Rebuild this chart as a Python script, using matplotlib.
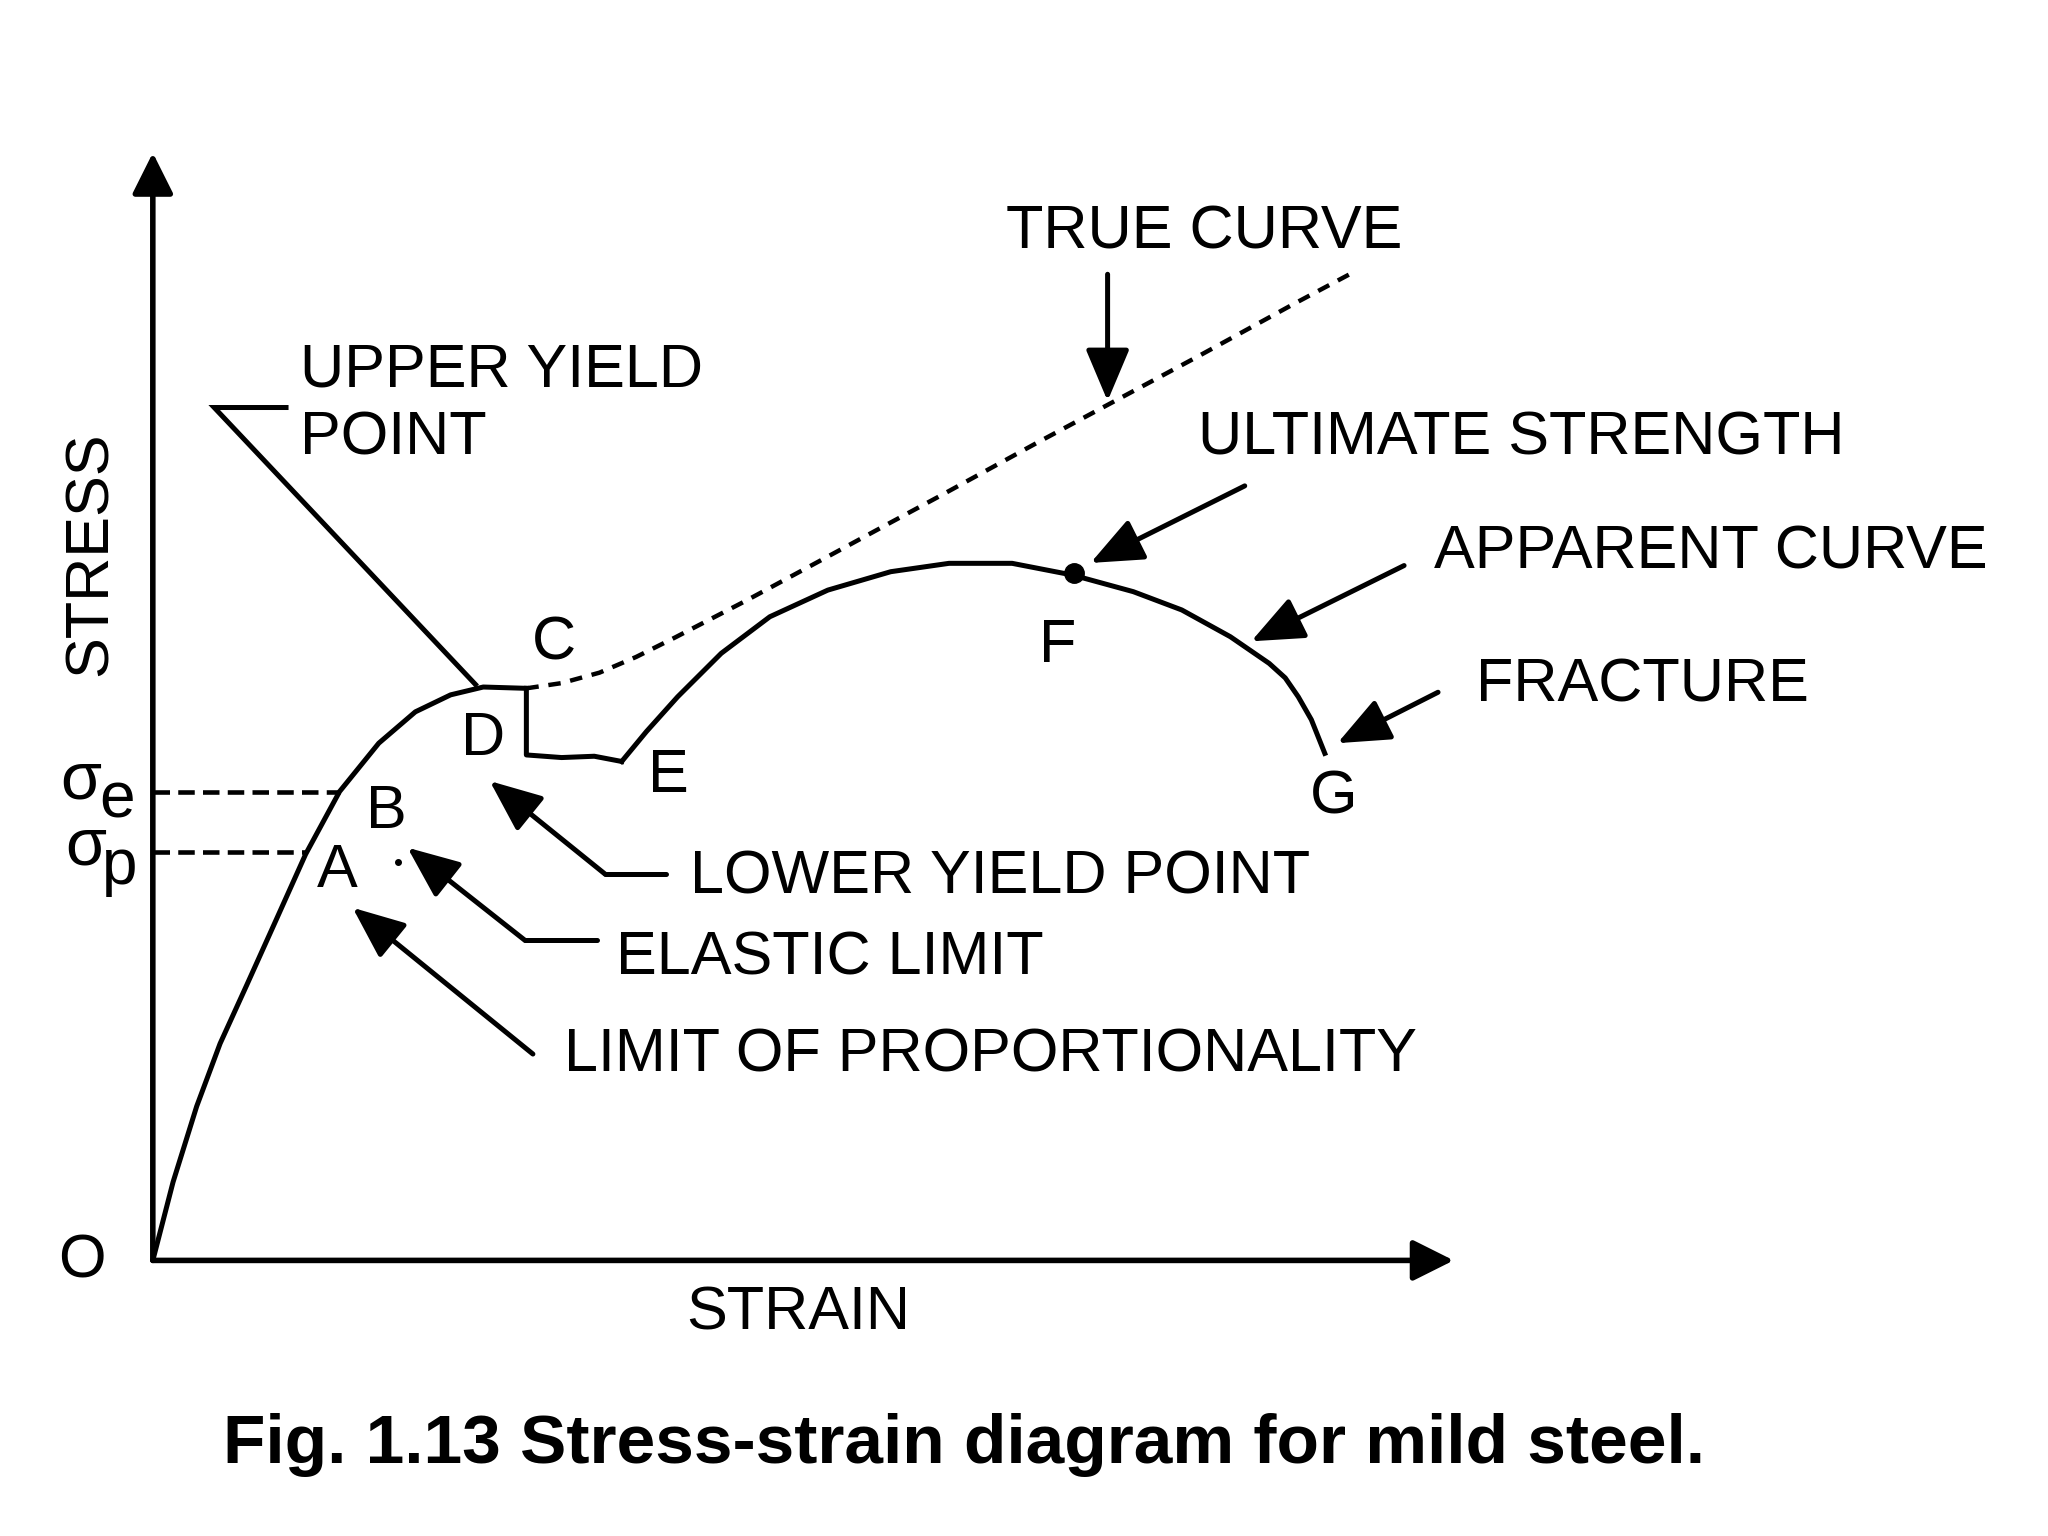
import matplotlib.pyplot as plt

plt.rcParams["font.family"] = ["Liberation Sans", "DejaVu Sans"]

# schematic curve, origin at O (strain, stress in drawing units)
elastic_strain = [0, 15.5, 33.6, 51.5, 72, 95, 117, 143, 173, 201, 228, 253, 286]
elastic_stress = [0, 60, 118, 166, 211, 262, 311, 359, 396, 420, 433, 439, 438]

yield_strain = [286, 286, 313, 338, 359]
yield_stress = [438, 387, 385, 386, 382]

apparent_strain = [359, 378, 401.8, 435.2, 472.4, 516.8, 565, 609.6, 657.9, 704.3,
                   750.7, 787.8, 825, 854.7, 867, 877, 887, 897.3]
apparent_stress = [382, 405, 431.5, 464.8, 492.8, 513.2, 527.3, 533.7, 533.7, 524.7,
                   512, 498, 477.5, 457.1, 446, 431.5, 414, 388.2]

true_strain = [286, 313, 342, 370, 400, 454, 517, 565, 604, 677, 731, 800, 873, 920]
true_stress = [438, 442, 450, 462, 477, 505, 539, 565, 586, 626, 655, 692, 732, 757]

sigma_e = 359
sigma_p = 313
strain_at_e = 143
strain_at_p = 117
ultimate = (705, 526)

point_names = ["C", "D", "E", "B", "A", "F", "G"]
point_x = [307, 253, 395, 179, 141, 693, 904]
point_y = [460, 387, 359, 331, 286, 458, 342]

fig = plt.figure(figsize=(20.48, 15.36), dpi=100)
ax = fig.add_axes([0, 0, 1, 1])
ax.set_xlim(-117, 1451)
ax.set_ylim(-211, 965)
ax.axis("off")

LW = 3.6
FS = 44

# axes with arrow heads
axis_arrow = dict(arrowstyle="-|>,head_length=0.42,head_width=0.21", mutation_scale=60,
                  lw=4.0, color="black", shrinkA=0, shrinkB=0)
ax.annotate("", xy=(0, 848), xytext=(0, 0), arrowprops=axis_arrow)
ax.annotate("", xy=(996, 0), xytext=(0, 0), arrowprops=axis_arrow)

# curves
ax.plot(elastic_strain, elastic_stress, color="black", lw=LW,
        solid_capstyle="round", solid_joinstyle="round")
ax.plot(yield_strain, yield_stress, color="black", lw=LW, solid_joinstyle="round")
ax.plot(apparent_strain, apparent_stress, color="black", lw=LW, solid_joinstyle="round")
ax.plot(true_strain, true_stress, color="black", lw=3.2, linestyle=(0, (2.8, 2.2)))
ax.plot(*ultimate, "o", color="black", ms=14)

# sigma levels
ax.plot([0, strain_at_e], [sigma_e, sigma_e], color="black", lw=3.3, linestyle=(0, (3.6, 1.8)))
ax.plot([0, strain_at_p], [sigma_p, sigma_p], color="black", lw=3.3, linestyle=(0, (3.6, 1.8)))
ax.plot(188, 305, "o", color="black", ms=4)

# upper yield point leader
ax.plot([102, 47, 247], [653, 653, 441], color="black", lw=LW, solid_joinstyle="miter")

# pointer arrows
ptr = dict(arrowstyle="-|>,head_length=0.64,head_width=0.27", mutation_scale=50,
           lw=3.6, color="black", shrinkA=0, shrinkB=0)
ax.annotate("", xy=(731, 658), xytext=(731, 755), arrowprops=ptr)
ax.annotate("", xy=(718, 534), xytext=(836, 593), arrowprops=ptr)
ax.annotate("", xy=(841, 474), xytext=(958, 532), arrowprops=ptr)
ax.annotate("", xy=(907, 396), xytext=(984, 435), arrowprops=ptr)
ax.plot([393, 346], [296, 296], color="black", lw=3.6, solid_capstyle="round")
ax.annotate("", xy=(258, 367), xytext=(346, 296), arrowprops=ptr)
ax.plot([340, 285], [245, 245], color="black", lw=3.6, solid_capstyle="round")
ax.annotate("", xy=(195, 316), xytext=(285, 245), arrowprops=ptr)
ax.annotate("", xy=(153, 270), xytext=(291, 158), arrowprops=ptr)

# labels
labels = [
    ("TRUE CURVE", 653, 775),
    ("UPPER YIELD", 113, 669),
    ("POINT", 113, 617),
    ("ULTIMATE STRENGTH", 800, 617),
    ("APPARENT CURVE", 981, 530),
    ("FRACTURE", 1013, 428),
    ("LOWER YIELD POINT", 411, 281),
    ("ELASTIC LIMIT", 355, 219),
    ("LIMIT OF PROPORTIONALITY", 315, 145),
]
for txt, x, y in labels:
    ax.text(x, y, txt, fontsize=FS, ha="left", va="baseline")

for name, x, y in zip(point_names, point_x, point_y):
    ax.text(x, y, name, fontsize=FS, ha="center", va="baseline")

ax.text(-54, -13, "O", fontsize=FS, ha="center", va="baseline")
ax.text(494, -53, "STRAIN", fontsize=FS, ha="center", va="baseline")
ax.text(-35, 541, "STRESS", fontsize=FS, ha="center", va="baseline",
        rotation=90, rotation_mode="anchor")

ax.text(-71, 354, "σ", fontsize=48, ha="left", va="baseline")
ax.text(-41, 339, "e", fontsize=46, ha="left", va="baseline")
ax.text(-67, 303, "σ", fontsize=48, ha="left", va="baseline")
ax.text(-39, 288, "p", fontsize=46, ha="left", va="baseline")

ax.text(621, -155, "Fig. 1.13 Stress-strain diagram for mild steel.", fontsize=50,
        fontweight="bold", ha="center", va="baseline")

fig.savefig("out.png", dpi=100, facecolor="white")
